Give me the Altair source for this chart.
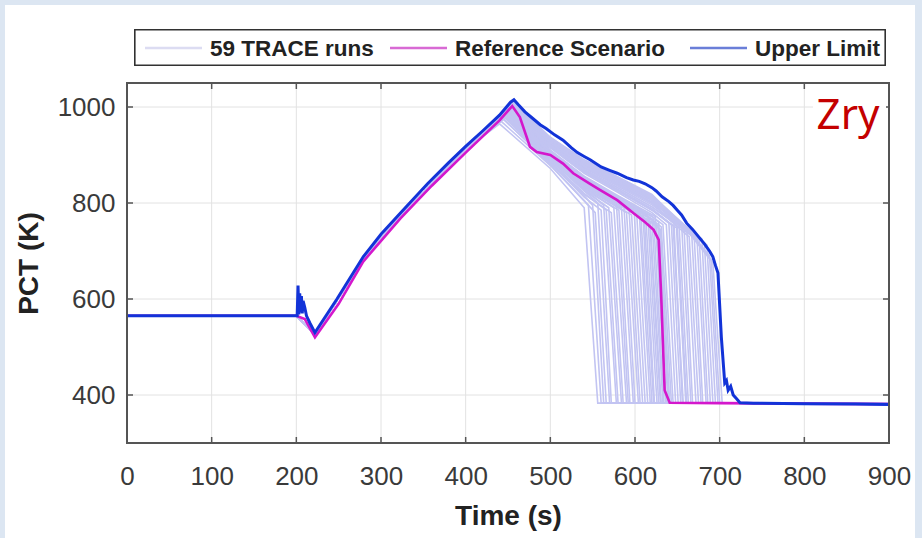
import altair as alt
import pandas as pd

# ---------------- data ----------------
SERIES = ["59 TRACE runs", "Reference Scenario", "Upper Limit"]
SERIES_COLORS = ["#c2c4f2", "#d417cc", "#1233d8"]
LEGEND_SYMBOL_COLORS = ["#dcdcf2", "#d86ad4", "#6a7ed8"]

X_TICKS = [0, 100, 200, 300, 400, 500, 600, 700, 800, 900]
Y_TICKS = [400, 600, 800, 1000]

# Upper limit curve
UPPER_T = [0, 201, 202, 203, 204, 205, 206, 207, 208, 210, 212, 216, 222, 248, 279, 300, 323, 355,
           380, 400, 420, 440, 453, 457, 462, 470, 480, 488, 495, 505, 515, 525, 532, 540, 547, 560,
           570, 579, 590, 598, 605, 612, 620, 625, 632, 640, 645, 650, 655, 661, 668, 675, 682, 688,
           692, 695, 698, 702, 706, 708, 710, 713, 716, 720, 724, 740, 800, 860, 900]
UPPER_K = [565, 565, 628, 568, 612, 572, 606, 570, 596, 582, 565, 550, 530, 600, 688, 735, 779, 840,
           884, 918, 950, 983, 1010, 1015, 1005, 990, 975, 963, 955, 942, 931, 915, 905, 897, 890, 875,
           868, 862, 853, 848, 845, 840, 832, 825, 813, 803, 795, 785, 775, 758, 745, 730, 715, 700,
           688, 670, 654, 520, 425, 430, 410, 418, 400, 392, 384, 383, 382, 381, 380]

# Reference scenario curve
REF_T = [0, 200, 210, 222, 250, 279, 323, 360, 400, 440, 455, 464, 476, 484, 500, 515, 527, 545,
         559, 579, 598, 612, 622, 628, 631, 635, 641, 700, 800, 900]
REF_K = [565, 565, 558, 520, 590, 678, 768, 836, 905, 972, 1002, 979, 917, 906, 900, 882, 862, 842,
         827, 806, 779, 760, 744, 723, 604, 410, 384, 383, 382, 381]

# 59 TRACE runs: shared early transient, then per-run values
RISE_T = [0, 200, 222, 279, 323, 400]
RISE_K = [565, 565, 525, 683, 773, 912]
CHECK_T = [500, 540, 580, 620, 660]
FLOOR_K = 383
END_TIME = 900

RUN_PEAK_T = [440, 445, 448, 442, 450, 446, 452, 447, 451, 444, 449, 453, 446, 450, 455, 448, 452, 447, 454,
              450, 453, 449, 455, 451, 446, 452, 454, 448, 450, 453, 456, 449, 451, 454, 447, 452, 455,
              452, 455, 453, 456, 450, 454, 457, 452, 455, 453, 456, 454, 457, 455, 456, 454, 457, 455, 456, 454, 452, 451]
RUN_PEAK_K = [965, 975, 980, 970, 985, 978, 990, 982, 988, 975, 985, 995, 980, 988, 998, 984, 992, 983, 996,
              990, 995, 988, 1000, 992, 982, 994, 998, 986, 990, 996, 1002, 988, 992, 998, 985, 995, 1000,
              996, 1002, 998, 1004, 994, 1000, 1006, 998, 1004, 1000, 1006, 1002, 1008, 1004, 1008, 1004, 1010, 1006, 1010, 1006, 1002, 998]
RUN_K500 = [872, 880, 885, 878, 890, 884, 895, 887, 892, 883, 893, 898, 889, 896, 902, 891, 899, 890, 904,
            900, 903, 898, 908, 901, 895, 905, 907, 897, 902, 906, 910, 899, 903, 908, 896, 904, 909,
            915, 918, 920, 922, 917, 924, 926, 921, 928, 925, 930, 927, 932, 929, 934, 931, 936, 933, 937, 935, 926, 920]
RUN_K540 = [None, None, 815, 805, 825, 812, 830, 820, 826, 818, 832, 838, 828, 836, 842, 833, 840, 834, 846,
            843, 847, 840, 852, 845, 838, 849, 851, 842, 846, 850, 856, 844, 848, 853, 841, 850, 855,
            862, 866, 868, 870, 865, 873, 875, 870, 878, 876, 881, 879, 884, 882, 886, 884, 889, 887, 890, 888, 877, 868]
RUN_K580 = [None, None, None, None, None, None, None, None, None, None, None, None, None, None, 800, 790, 798, 792, 805,
            803, 806, 800, 812, 804, 798, 808, 810, 802, 806, 809, 815, 803, 807, 812, 800, 809, 813,
            822, 826, 828, 832, 825, 835, 838, 831, 840, 838, 843, 842, 846, 845, 849, 847, 852, 850, 854, 852, 838, 826]
RUN_K620 = [None] * 19 + \
           [None, None, None, None, None, None, None, None, None, None, None, None, None, 765, 772, 758, 766, 772] + \
           [780, 785, 788, 792, 786, 796, 800, 792, 802, 800, 806, 805, 810, 808, 813, 810, 816, 814, 818, 816, 800, 786]
RUN_K660 = [None] * 37 + \
           [None, None, None, None, None, None, None, None, None, 735, 742, 740, 746, 744, 750, 748, 752, 750, 748, 746, None, None]
RUN_KNEE_T = [540, 545, 550, 553, 556, 560, 563, 566, 569, 572, 575, 578, 581, 584, 587, 590, 593, 596, 599,
              602, 605, 607, 609, 611, 613, 615, 617, 618, 620, 622, 624, 625, 627, 628, 630, 631, 633,
              637, 640, 643, 646, 649, 652, 655, 658, 661, 664, 667, 670, 673, 676, 679, 682, 685, 688, 690, 692, 650, 645]
RUN_KNEE_K = [790, 795, 795, 780, 800, 785, 795, 785, 790, 780, 790, 800, 785, 790, 792, 780, 785, 775, 782,
              778, 780, 770, 785, 770, 762, 775, 770, 760, 765, 765, 772, 755, 752, 760, 745, 750, 755,
              755, 758, 755, 758, 748, 755, 758, 745, 750, 730, 735, 728, 732, 722, 725, 715, 712, 690, 682, 675, 750, 752]
RUN_END_T = [556, 560, 563, 566, 570, 572, 578, 580, 584, 586, 590, 592, 594, 598, 600, 604, 606, 609, 612,
             615, 618, 620, 622, 623, 626, 628, 630, 631, 633, 634, 636, 637, 639, 640, 641, 643, 645,
             648, 651, 654, 656, 660, 663, 666, 668, 672, 675, 678, 680, 684, 686, 689, 692, 695, 698, 700, 703, 661, 657]

LABEL_TEXT = "Zry"

# ---------------- build tables ----------------
rows = []
checks = [RUN_K500, RUN_K540, RUN_K580, RUN_K620, RUN_K660]
for i in range(len(RUN_PEAK_T)):
    pts = list(zip(RISE_T, RISE_K))
    pts.append((RUN_PEAK_T[i], RUN_PEAK_K[i]))
    for ct, arr in zip(CHECK_T, checks):
        if arr[i] is not None:
            pts.append((ct, arr[i]))
    pts.append((RUN_KNEE_T[i], RUN_KNEE_K[i]))
    pts.append((RUN_END_T[i], FLOOR_K))
    pts.append((END_TIME, FLOOR_K))
    for j, (t, k) in enumerate(pts):
        rows.append({"t": t, "K": k, "run": i, "series": SERIES[0], "o": j})
traces = pd.DataFrame(rows)
ref = pd.DataFrame({"t": REF_T, "K": REF_K, "series": SERIES[1], "o": range(len(REF_T))})
upper = pd.DataFrame({"t": UPPER_T, "K": UPPER_K, "series": SERIES[2], "o": range(len(UPPER_T))})
xt = pd.DataFrame({"t": X_TICKS})
yt = pd.DataFrame({"K": Y_TICKS})

# ---------------- layout (pixels, relative to plot area) ----------------
W, H = 762, 360
FONT = "Liberation Sans"
LEG_BOX = (8, 758, -53, -18)
LEG_SYM_X = [18, 263, 563]
LEG_SYM_LEN = 57
LEG_TXT_GAP = 8
LEG_Y = -35

xs = alt.Scale(domain=[0, 900], nice=False, zero=False)
ys = alt.Scale(domain=[300, 1050], nice=False, zero=False)

color_enc = alt.Color("series:N", scale=alt.Scale(domain=SERIES, range=SERIES_COLORS), legend=None)

x_enc = alt.X("t:Q", scale=xs, axis=alt.Axis(
    values=X_TICKS, title="Time (s)", grid=False, domain=False, ticks=False, zindex=1,
    labelPadding=20, titlePadding=13, labelFlush=False, format="d"))
y_enc = alt.Y("K:Q", scale=ys, axis=alt.Axis(
    values=Y_TICKS, title="PCT (K)", grid=False, domain=False, ticks=False, zindex=1,
    labelPadding=12, titlePadding=14, format="d"))

bg = alt.Chart(xt).mark_rect(color="white").encode(
    x=alt.value(-122), x2=alt.value(W + 26), y=alt.value(-78), y2=alt.value(H + 95))

gx = alt.Chart(xt).mark_rule(color="#e2e2e2", strokeWidth=1).encode(x=alt.X("t:Q", scale=xs))
gy = alt.Chart(yt).mark_rule(color="#e2e2e2", strokeWidth=1).encode(y=alt.Y("K:Q", scale=ys))

tick_color = "#555"
tb = alt.Chart(xt).mark_rule(color=tick_color, strokeWidth=1.5).encode(
    x=alt.X("t:Q", scale=xs), y=alt.value(H), y2=alt.value(H - 6))
tt = alt.Chart(xt).mark_rule(color=tick_color, strokeWidth=1.5).encode(
    x=alt.X("t:Q", scale=xs), y=alt.value(0), y2=alt.value(6))
tl = alt.Chart(yt).mark_rule(color=tick_color, strokeWidth=1.5).encode(
    y=alt.Y("K:Q", scale=ys), x=alt.value(0), x2=alt.value(6))
tr = alt.Chart(yt).mark_rule(color=tick_color, strokeWidth=1.5).encode(
    y=alt.Y("K:Q", scale=ys), x=alt.value(W), x2=alt.value(W - 6))

l_tr = alt.Chart(traces).mark_line(strokeWidth=1.6).encode(
    x=x_enc, y=y_enc, color=color_enc, detail="run:N", order="o:Q")
l_ref = alt.Chart(ref).mark_line(strokeWidth=2.6).encode(
    x=x_enc, y=y_enc, color=color_enc, order="o:Q")
l_up = alt.Chart(upper).mark_line(strokeWidth=3).encode(
    x=x_enc, y=y_enc, color=color_enc, order="o:Q")

frame = alt.Chart(xt).mark_rect(filled=False, stroke="#555", strokeWidth=1.8).encode(
    x=alt.value(0), x2=alt.value(W), y=alt.value(0), y2=alt.value(H))

# custom legend
leg_box = alt.Chart(xt).mark_rect(fill="white", stroke="#333", strokeWidth=1.2).encode(
    x=alt.value(LEG_BOX[0]), x2=alt.value(LEG_BOX[1]), y=alt.value(LEG_BOX[2]), y2=alt.value(LEG_BOX[3]))
leg_layers = []
for name, col, sx in zip(SERIES, LEGEND_SYMBOL_COLORS, LEG_SYM_X):
    d = pd.DataFrame({"s": [name]})
    leg_layers.append(alt.Chart(d).mark_rule(color=col, strokeWidth=2.5).encode(
        x=alt.value(sx), x2=alt.value(sx + LEG_SYM_LEN), y=alt.value(LEG_Y)))
    leg_layers.append(alt.Chart(d).mark_text(
        font=FONT, fontSize=22.5, fontWeight="bold", color="#222", align="left", baseline="middle"
    ).encode(text="s:N", x=alt.value(sx + LEG_SYM_LEN + LEG_TXT_GAP), y=alt.value(LEG_Y + 1)))

zbox = alt.Chart(xt).mark_rect(color="white").encode(
    x=alt.value(686), x2=alt.value(W - 3), y=alt.value(3), y2=alt.value(58))
ztext = alt.Chart(pd.DataFrame({"s": [LABEL_TEXT]})).mark_text(
    font="Noto Sans", fontSize=42, color="#c40000", align="center", baseline="alphabetic"
).encode(text="s:N", x=alt.value(721), y=alt.value(46))

chart = alt.layer(bg, gx, gy, l_tr, l_ref, l_up, tb, tt, tl, tr, frame, leg_box, *leg_layers, zbox, ztext).properties(
    width=W, height=H,
    autosize=alt.AutoSizeParams(type="none"),
    padding={"left": 127, "top": 83, "right": 33, "bottom": 95},
    background="#dce6f2",
).configure_axis(
    labelFont=FONT, labelFontSize=26, labelColor="#3a3a3a",
    titleFont=FONT, titleFontSize=28, titleFontWeight="bold", titleColor="#222",
).configure_view(stroke=None)

chart.save("out.html", embed_options={"renderer": "svg", "actions": False})
